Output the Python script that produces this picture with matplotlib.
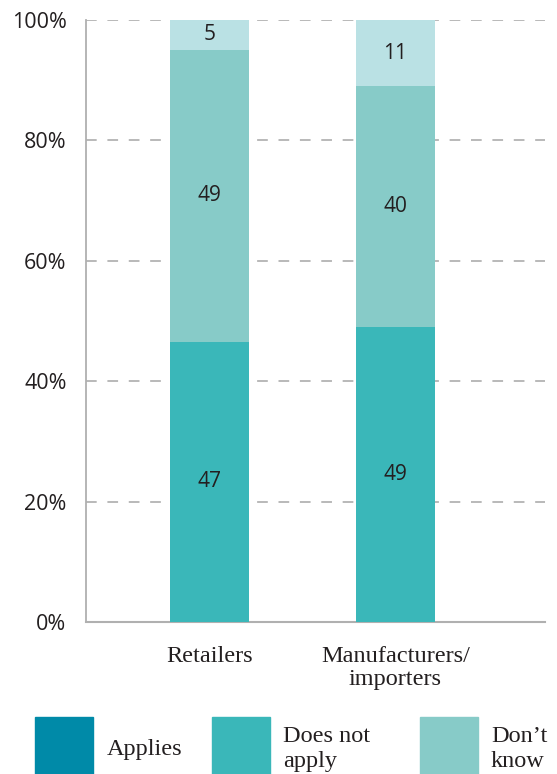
import matplotlib
matplotlib.use("Agg")
import matplotlib.pyplot as plt
from matplotlib.patches import Rectangle
import numpy as np

categories = ["Retailers", "Manufacturers/\nimporters"]
applies = [0, 0]
does_not_apply = [47, 49]
dont_know = [49, 40]
other = [5, 11]
series_values = [applies, does_not_apply, dont_know, other]
series_colors = ["#008aa8", "#3ab7b9", "#87cbc8", "#bae1e4"]
legend_labels = ["Applies", "Does not\napply", "Don\u2019t\nknow"]
yticks = [0, 20, 40, 60, 80, 100]
ytick_labels = ["0%", "20%", "40%", "60%", "80%", "100%"]

TEXT = "#231f20"
SANS = ["Open Sans", "DejaVu Sans"]
SERIF = ["Liberation Serif", "DejaVu Serif"]

fig = plt.figure(figsize=(5.57, 7.74), dpi=100)
ax = fig.add_axes([86/557, 1-622/774, (545-86)/557, (622-20)/774])

x = np.arange(len(categories))
totals = np.sum(np.array(series_values, dtype=float), axis=0)
bottom = np.zeros(len(categories))
for vals, col in zip(series_values, series_colors):
    vals = np.array(vals, dtype=float)
    h = vals / totals * 100
    ax.bar(x, h, width=0.425, bottom=bottom, color=col, zorder=3)
    for xi, v, hh, b in zip(x, vals, h, bottom):
        if v > 0:
            ax.text(xi, b + hh/2, f"{int(v)}", ha="center", va="center",
                    fontsize=15, color=TEXT, family=SANS, zorder=4)
    bottom += h

ax.set_xlim(-0.664, 1.804)
ax.set_ylim(0, 100)
ax.set_yticks(yticks)
ax.set_yticklabels(ytick_labels, family=SANS, fontsize=15.5, color=TEXT)
ax.set_xticks(x)
ax.set_xticklabels(categories, family=SERIF, fontsize=17.5, color=TEXT, linespacing=1.1)
ax.tick_params(axis="y", length=0, pad=14)
ax.tick_params(axis="x", length=0, pad=17.5)
for t in yticks[1:]:
    ax.axhline(t, color="#a6a6a6", lw=1.1, ls=(0, (7, 7)), zorder=1)
for s in ["top", "right"]:
    ax.spines[s].set_visible(False)
ax.spines["left"].set_color("#b0b0b0")
ax.spines["left"].set_linewidth(1.3)
ax.spines["bottom"].set_color("#b0b0b0")
ax.spines["bottom"].set_linewidth(1.5)

# legend (manual layout)
sq_x = [35, 212, 420]
txt_x = [107, 283, 491]
sq_w, sq_h = 58, 60
sq_top = 717
for sx, tx, col, lab in zip(sq_x, txt_x, series_colors[:3], legend_labels):
    fig.patches.append(Rectangle((sx/557, 1-(sq_top+sq_h)/774), sq_w/557, sq_h/774,
                                 transform=fig.transFigure, color=col))
    fig.text(tx/557, 1-749/774, lab, ha="left", va="center", family=SERIF,
             fontsize=17.5, color=TEXT, linespacing=1.2)

fig.savefig("out.png", dpi=100)
